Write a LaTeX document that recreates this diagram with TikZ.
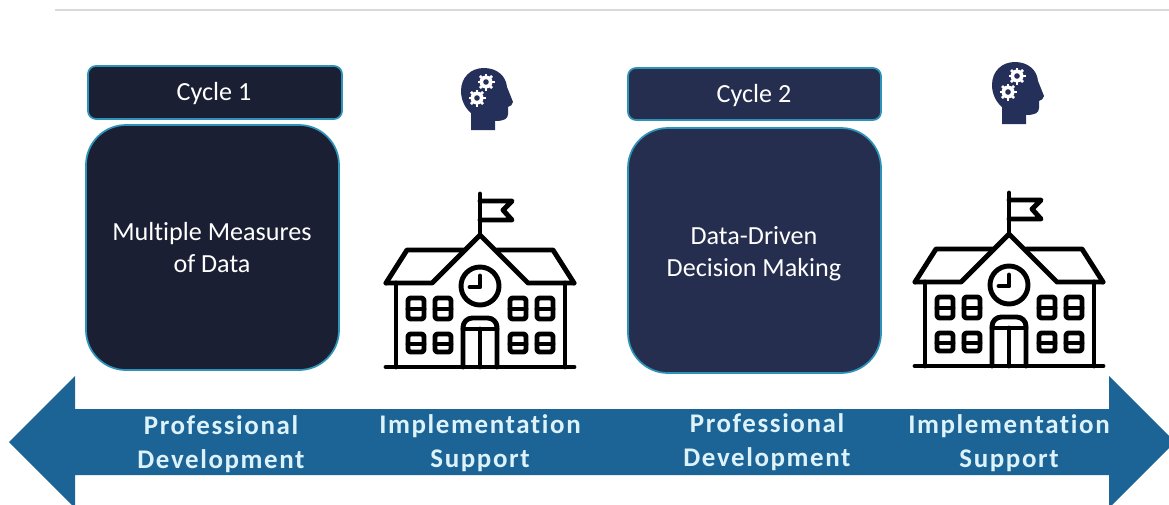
\documentclass[tikz,border=0pt]{standalone}
\usepackage{fontspec}
\setmainfont[Ligatures=NoCommon]{Carlito}
\newfontfamily\bannerfont[LetterSpace=6,Ligatures=NoCommon]{Carlito Bold}
\definecolor{navyA}{HTML}{1A1F33}
\definecolor{navyB}{HTML}{252E4F}
\definecolor{rimblue}{HTML}{2E93B8}
\definecolor{bannerblue}{HTML}{1C6396}
\definecolor{bannertext}{HTML}{DDF3FB}
\definecolor{headblue}{HTML}{24305A}

\tikzset{
  cog/.pic={
    \foreach \a in {0,45,...,315}
      \draw[white, line width=2pt] (\a:5) -- (\a:8.5);
    \fill[white] (0,0) circle (6.5);
    \fill[headblue] (0,0) circle (2.8);
  },
  head/.pic={
    \fill[headblue] (471,130) -- (471,113) .. controls (465,108) and (461,100) .. (461,91)
      .. controls (461,77) and (471,68) .. (484,68)
      .. controls (497,68) and (506,76) .. (507,87)
      -- (513,102) .. controls (513,105) and (510,106) .. (508,107)
      -- (508,114) .. controls (508,119) and (504,121) .. (495,121) -- (495,130) -- cycle;
    \pic at (486,82) {cog};
    \pic at (477,98) {cog};
  },
  school/.pic={
    \begin{scope}[black, line width=3.7pt, line cap=round, line join=round]
    % flag and roof
    \draw (480,194) -- (480,235);
    \draw (480,201) -- (512,201) -- (503,210) -- (512,220) -- (480,220);
    \draw (386,283) -- (432,283) -- (480,235) -- (528,283) -- (574,283);
    \draw (386,283) -- (407,250) -- (463,250);
    \draw (574,283) -- (553,250) -- (497,250);
    % walls and clock
    \draw (396,283) -- (396,367);
    \draw (565,283) -- (565,367);
    \draw (386,367) -- (574,367);
    \draw (480,286) circle (19);
    \draw (480,276) -- (480,287) -- (470,287);
    % windows
    \foreach \wx in {408,435,510,537} {
      \draw[rounded corners=2] (\wx,298) rectangle ++(16,21);
      \draw (\wx,309) -- ++(16,0);
      \draw[rounded corners=2] (\wx,334) rectangle ++(16,18);
      \draw (\wx,344) -- ++(16,0);
    }
    % door
    \draw[rounded corners=7] (463,367) -- (463,318) -- (497,318) -- (497,367);
    \draw (463,329) -- (497,329);
    \draw (480,329) -- (480,367);
    \end{scope}
  }
}

\begin{document}
\begin{tikzpicture}[x=0.75pt, y=-0.75pt,
                every node/.style={text=white, font=\fontsize{19.6}{24}\selectfont, align=center},
                tag/.style={draw=rimblue, line width=1.3pt, rounded corners=6},
                panel/.style={draw=rimblue, line width=1.3pt, rounded corners=30},
                banner/.style={text=bannertext, font=\bannerfont\fontsize{20.2}{26}\selectfont}]

                \useasboundingbox (0,0) rectangle (1169,504);
                \clip (0,0) rectangle (1169,504);

                \draw[color=black!15, line width=1.5pt] (55,9.5) -- (1169,9.5);

                \draw[tag, fill=navyA] (88,66) rectangle (342,119);
                \draw[panel, fill=navyA] (86,125) rectangle (339,370);
                \draw[tag, fill=navyB] (628,68) rectangle (881,120);
                \draw[panel, fill=navyB] (628,128) rectangle (881,373);

                \node (cycleone) at (214,94) {Cycle 1};
                \node (measures) at (212,248) {Multiple Measures\\of Data};
                \node (cycletwo) at (754,96) {Cycle 2};
                \node (decisions) at (754,254) {Data-Driven\\Decision Making};

                \pic (headone) at (0,0) {head};
                \pic (headtwo) at (531,-6) {head};
                \pic (schoolone) at (0,0) {school};
                \pic (schooltwo) at (529,-1) {school};

                \fill[bannerblue] (9,442) -- (75,376) -- (75,409) -- (1109,409) -- (1109,376)
                    -- (1175,442) -- (1109,508) -- (1109,475) -- (75,475) -- (75,508) -- cycle;

                \node[banner] (pdone) at (221,444) {Professional\\Development};
                \node[banner] (isone) at (480,443) {Implementation\\Support};
                \node[banner] (pdtwo) at (767,442) {Professional\\Development};
                \node[banner] (istwo) at (1009,443) {Implementation\\Support};
\end{tikzpicture}
\end{document}
